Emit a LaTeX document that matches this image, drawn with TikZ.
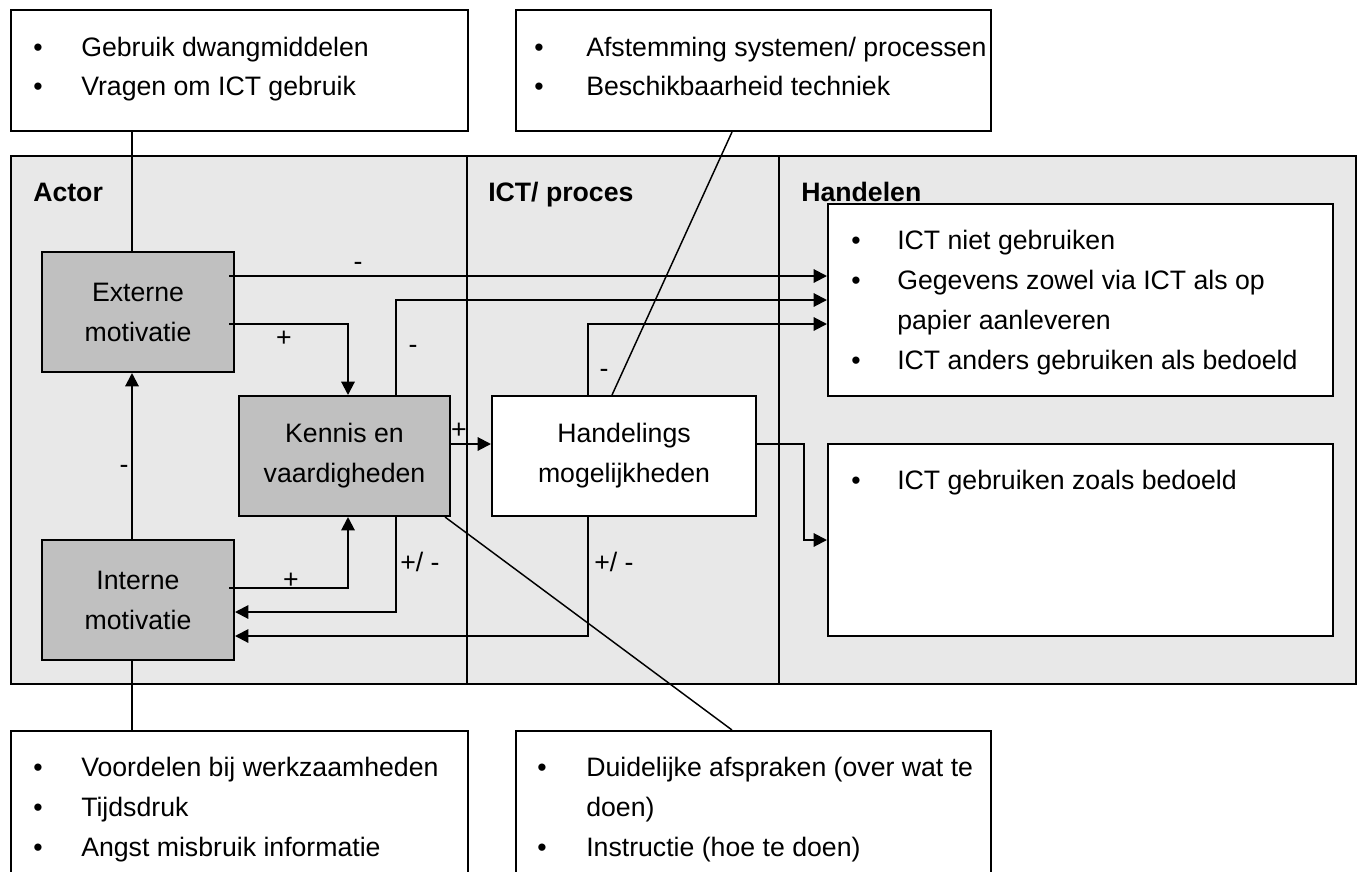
\documentclass[tikz,border=0pt]{standalone}
\usepackage{fontspec}
\setmainfont{Liberation Sans}
\usetikzlibrary{arrows.meta,calc}
\definecolor{panelgrey}{RGB}{232,232,232}
\definecolor{boxgrey}{RGB}{192,192,192}
\newcommand\bodyfont{\fontsize{20}{30}\selectfont}
\tikzset{
  panelbox/.style={draw, line width=1.5pt, fill=panelgrey, inner sep=0},
  greybox/.style={draw, line width=1.5pt, fill=boxgrey, inner sep=0, align=center, font=\bodyfont, minimum width=144pt, minimum height=90pt},
  whitebox/.style={draw, line width=1.5pt, fill=white, inner sep=0},
  conn/.style={line width=1.5pt},
  arr/.style={line width=1.5pt, -{Triangle[length=10pt,width=10pt]}},
  thinline/.style={line width=1.1pt},
  lbl/.style={font=\bodyfont, inner sep=0, anchor=base},
  lblw/.style={font=\bodyfont, inner sep=0, anchor=base west},
  hdr/.style={font=\bodyfont\bfseries, anchor=base west, inner sep=0},
  bul/.style={font=\bodyfont, anchor=base, inner sep=0},
  itm/.style={font=\bodyfont, anchor=base west, inner sep=0},
}
\begin{document}
\begin{tikzpicture}[x=0.75pt,y=-0.75pt]
\clip (0,0) rectangle (1362,871);
\fill[white] (0,0) rectangle (1362,871);

% main panel and column dividers
\node[panelbox, minimum width=1008.75pt, minimum height=396pt] (panel) at (683.5,420) {};
\draw[conn] ($(panel.north west)+(457,0)$) -- ($(panel.south west)+(457,0)$);
\draw[conn] ($(panel.north west)+(769,0)$) -- ($(panel.south west)+(769,0)$);

% outer boxes
\node[whitebox, minimum width=342.75pt, minimum height=90.75pt] (tl) at (239.5,70.5) {};
\node[whitebox, minimum width=356.25pt, minimum height=90.75pt] (tm) at (753.5,70.5) {};
\node[whitebox, minimum width=342.75pt, minimum height=126.75pt] (bl) at (239.5,815.5) {};
\node[whitebox, minimum width=356.25pt, minimum height=126.75pt] (bm) at (753.5,815.5) {};

% inner boxes
\node[whitebox, minimum width=378.75pt, minimum height=144pt] (tr) at (1080.5,300) {};
\node[whitebox, minimum width=378.75pt, minimum height=144pt] (lr) at (1080.5,540) {};
\node[greybox] (ext) at (138,312) {Externe\\motivatie};
\node[greybox] (int) at (138,600) {Interne\\motivatie};
\node[greybox, minimum width=158.25pt] (ken) at (344.5,456) {Kennis en\\vaardigheden};
\node[greybox, fill=white, minimum width=198pt] (han) at (624,456) {Handelings\\mogelijkheden};

% headers
\node[hdr] (hactor) at (33,201) {Actor};
\node[hdr] (hict) at (488,201) {ICT/ proces};
\node[hdr] (hhand) at (801,201) {Handelen};

% plain connectors to outer boxes
\draw[conn] ($(ext.north)+(-6,0)$) -- ($(tl.south -| ext.north)+(-6,0)$);
\draw[conn] ($(int.south)+(-6,0)$) -- ($(bl.north -| int.south)+(-6,0)$);
\draw[thinline] ($(tm.south)+(-21.5,0)$) -- ($(han.north)+(-12,0)$);
\draw[thinline] ($(ken.south east)+(-6,0)$) -- ($(bm.north)+(-21.5,0)$);

% arrows
\draw[arr] ($(int.north)+(-6,0)$) -- ($(ext.south)+(-6,0)$);
\draw[arr] ($(ext.east)+(-6,-36)$) -- ($(tr.west)+(0,-24)$);
\draw[arr] ($(ext.east)+(-6,12)$) -| ($(ken.north)+(3.5,0)$);
\draw[arr] ($(ken.north)+(51.5,0)$) |- (tr.west);
\draw[arr] ($(han.north)+(-36,0)$) |- ($(tr.west)+(0,24)$);
\draw[arr] ($(ken.east)+(0,-12)$) -- ($(han.west)+(0,-12)$);
\draw[arr] ($(han.east)+(0,-12)$) -- ($(han.east)+(47,-12)$) |- (lr.west);
\draw[arr] ($(int.east)+(-6,-12)$) -| ($(ken.south)+(3.5,0)$);
\draw[arr] ($(ken.south)+(51.5,0)$) |- ($(int.east)+(0,12)$);
\draw[arr] ($(han.south)+(-36,0)$) |- ($(int.east)+(0,36)$);

% connector labels
\node[lbl] (l1) at (358,270.5) {-};
\node[lbl] (l2) at (284,346) {+};
\node[lbl] (l3) at (413,353.5) {-};
\node[lbl] (l4) at (604,377.5) {-};
\node[lbl] (l5) at (459,438) {+};
\node[lbl] (l6) at (124,473.5) {-};
\node[lbl] (l7) at (291,588) {+};
\node[lblw] (l8) at (400,571) {+/ -};
\node[lblw] (l9) at (594,571) {+/ -};

% bullet lists
\node[bul] (b1) at (38,56) {•};  \node[itm] (t1) at (81,56) {Gebruik dwangmiddelen};
\node[bul] (b2) at (38,95) {•};  \node[itm] (t2) at (81,95) {Vragen om ICT gebruik};
\node[bul] (b3) at (539,56) {•}; \node[itm] (t3) at (586,56) {Afstemming systemen/ processen};
\node[bul] (b4) at (539,95) {•}; \node[itm] (t4) at (586,95) {Beschikbaarheid techniek};
\node[bul] (b5) at (856,249) {•}; \node[itm] (t5) at (897,249) {ICT niet gebruiken};
\node[bul] (b6) at (856,289) {•}; \node[itm] (t6) at (897,289) {Gegevens zowel via ICT als op};
\node[itm] (t6b) at (897,329) {papier aanleveren};
\node[bul] (b7) at (856,369) {•}; \node[itm] (t7) at (897,369) {ICT anders gebruiken als bedoeld};
\node[bul] (b8) at (856,489) {•}; \node[itm] (t8) at (897,489) {ICT gebruiken zoals bedoeld};
\node[bul] (b9) at (38,776) {•};  \node[itm] (t9) at (81,776) {Voordelen bij werkzaamheden};
\node[bul] (b10) at (38,816) {•}; \node[itm] (t10) at (81,816) {Tijdsdruk};
\node[bul] (b11) at (38,856) {•}; \node[itm] (t11) at (81,856) {Angst misbruik informatie};
\node[bul] (b12) at (542,776) {•}; \node[itm] (t12) at (586,776) {Duidelijke afspraken (over wat te};
\node[itm] (t12b) at (586,816) {doen)};
\node[bul] (b13) at (542,856) {•}; \node[itm] (t13) at (586,856) {Instructie (hoe te doen)};
\end{tikzpicture}
\end{document}
